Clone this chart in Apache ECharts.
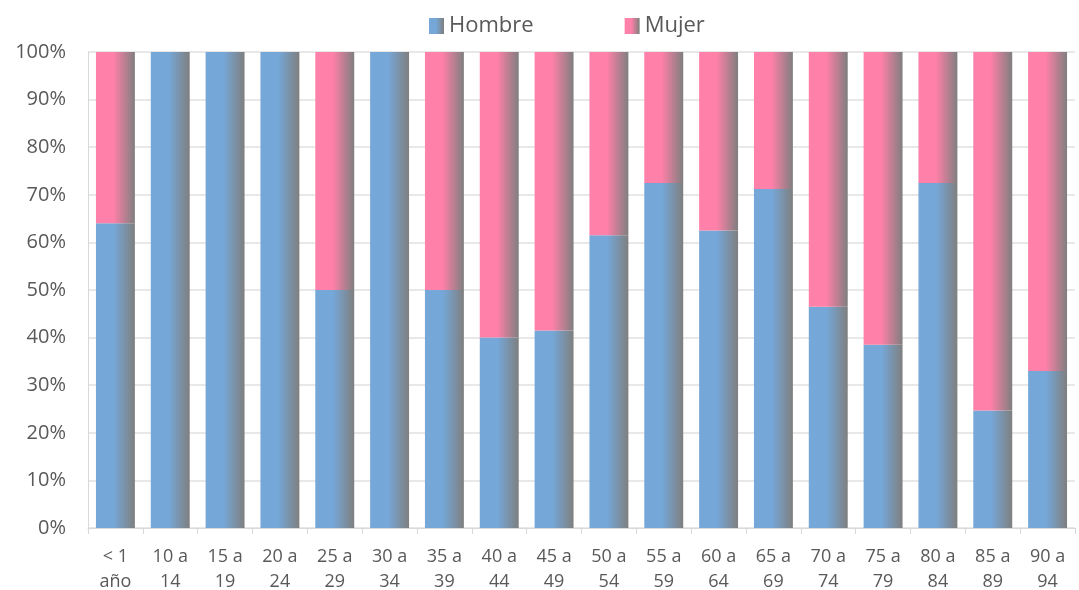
<!DOCTYPE html>
<html lang="es">
<head>
    <meta charset="UTF-8">
    <title>Hombre / Mujer por edad</title>
    <script src="https://cdn.jsdelivr.net/npm/echarts@6/dist/echarts.min.js"></script>
    <style>
        html, body { margin: 0; padding: 0; background: #fff; }
        #chart { width: 1079px; height: 590px; }
    </style>
</head>
<body>
    <div id="chart"></div>
    <script>
        // categorías de edad
        const categories = ['< 1\naño', '10 a\n14', '15 a\n19', '20 a\n24', '25 a\n29', '30 a\n34', '35 a\n39', '40 a\n44', '45 a\n49',
            '50 a\n54', '55 a\n59', '60 a\n64', '65 a\n69', '70 a\n74', '75 a\n79', '80 a\n84', '85 a\n89', '90 a\n94'];
        // porcentaje de hombres
        const hombre = [64, 100, 100, 100, 50, 100, 50, 40, 41.5, 61.5, 72.5, 62.5, 71.2, 46.5, 38.5, 72.5, 24.7, 33];
        // porcentaje de mujeres
        const mujer = [36, 0, 0, 0, 50, 0, 50, 60, 58.5, 38.5, 27.5, 37.5, 28.8, 53.5, 61.5, 27.5, 75.3, 67];

        function grad(c) {
            return new echarts.graphic.LinearGradient(0, 0, 1, 0, [
                { offset: 0, color: c },
                { offset: 0.45, color: c },
                { offset: 1, color: '#7f7f7f' }
            ]);
        }

        const chart = echarts.init(document.getElementById('chart'));
        chart.setOption({
            animation: false,
            textStyle: { fontFamily: 'Open Sans' },
            legend: {
                top: 10,
                left: 424,
                icon: 'rect',
                itemWidth: 15,
                itemHeight: 16,
                itemGap: 91,
                textStyle: { fontSize: 22, color: '#595959', fontFamily: 'Open Sans' },
                data: ['Hombre', 'Mujer']
            },
            grid: { left: 88, right: 4, top: 52, bottom: 62, outerBoundsMode: 'none' },
            xAxis: {
                type: 'category',
                data: categories,
                axisLine: { lineStyle: { color: '#d9d9d9', width: 1 } },
                axisTick: { show: true, length: 6, lineStyle: { color: '#d9d9d9' } },
                axisLabel: { color: '#595959', fontSize: 18, lineHeight: 25, margin: 16, interval: 0 }
            },
            yAxis: {
                type: 'value',
                min: 0,
                max: 100,
                interval: 10,
                axisLine: { show: true, lineStyle: { color: '#d9d9d9', width: 1 } },
                axisTick: { show: false },
                splitLine: { lineStyle: { color: '#e0e0e0', width: 1.5 } },
                axisLabel: { formatter: '{value}%', color: '#595959', fontSize: 20, margin: 22 }
            },
            series: [
                {
                    name: 'Hombre',
                    type: 'bar',
                    stack: 'total',
                    barWidth: '71%',
                    data: hombre,
                    itemStyle: { color: grad('#75a8d9') }
                },
                {
                    name: 'Mujer',
                    type: 'bar',
                    stack: 'total',
                    barWidth: '71%',
                    data: mujer,
                    itemStyle: { color: grad('#ff80a8') }
                }
            ]
        });
    </script>
</body>
</html>
